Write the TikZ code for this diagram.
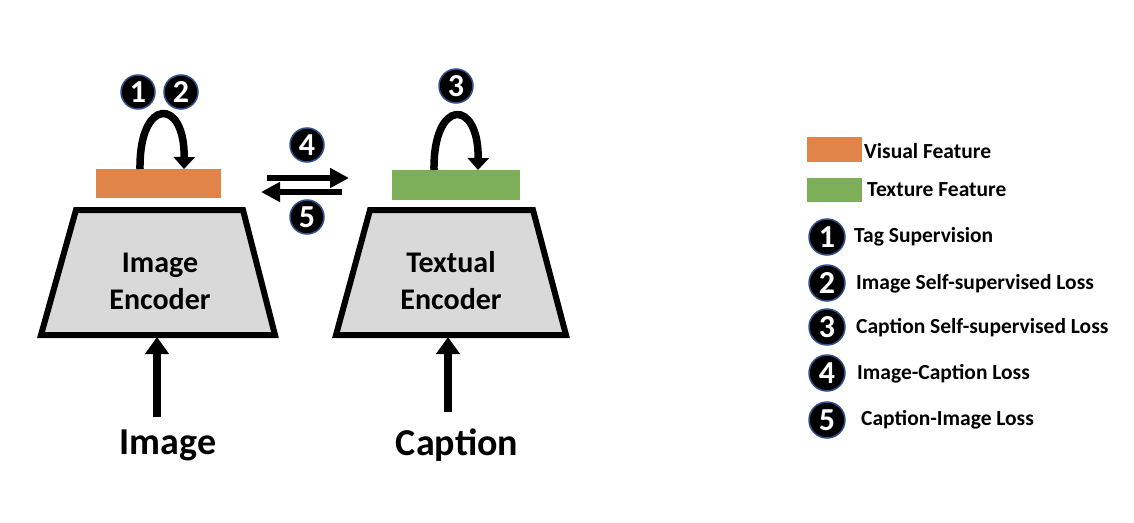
\documentclass[tikz,border=0pt]{standalone}
\usepackage{fontspec}
\setmainfont{Carlito}
\usetikzlibrary{arrows.meta}
\definecolor{vorange}{HTML}{E0844A}
\definecolor{tgreen}{HTML}{7DAE58}
\definecolor{encgray}{HTML}{D9D9D9}
\definecolor{ringblue}{HTML}{2F528F}
\tikzset{
  num/.style={circle, fill=black, draw=ringblue, line width=1.5pt, minimum size=34pt, inner sep=0pt, text=white, font=\fontsize{32}{32}\selectfont\bfseries},
  lnum/.style={num, minimum size=36pt},
  enc/.style={fill=encgray, draw=black, line width=6pt, line join=miter},
  enctext/.style={font=\fontsize{30}{37}\selectfont\bfseries, align=center, inner sep=0pt},
  inlabel/.style={font=\fontsize{38}{40}\selectfont\bfseries, inner sep=0pt},
  legtext/.style={font=\fontsize{21.5}{23}\selectfont\bfseries, anchor=west, inner sep=0pt},
  bar/.style={rectangle, inner sep=0pt},
  uparrow/.style={line width=8pt, -{Triangle[width=23pt,length=17pt]}},
  xarrow/.style={line width=6.5pt, -{Triangle[width=19pt,length=19pt]}},
  looparrow/.style={line width=7.5pt, -{Triangle[width=21pt,length=12pt]}},
}
\begin{document}
\begin{tikzpicture}[x=1pt, y=-1pt]
\useasboundingbox (0,0) rectangle (1134,522);
% encoders
\draw[enc] (76,210) -- (243,210) -- (275,335) -- (41,335) -- cycle;
\draw[enc] (370,210) -- (533,210) -- (566,335) -- (336,335) -- cycle;
\node[enctext] (ienc) at (160,281) {Image\\Encoder};
\node[enctext] (tenc) at (451,281) {Textual\\Encoder};
\coordinate (ienc-bot) at (157,337);
\coordinate (tenc-bot) at (448,337);
% inputs
\node[inlabel] (img) at (168,445) {Image};
\node[inlabel] (cap) at (457,445) {Caption};
\coordinate (img-top) at (157,417);
\coordinate (cap-top) at (448,412);
\draw[uparrow] (img-top) -- (ienc-bot);
\draw[uparrow] (cap-top) -- (tenc-bot);
% feature bars
\node[bar, fill=vorange, minimum width=125pt, minimum height=29pt] (vf) at (158.5,183.5) {};
\node[bar, fill=tgreen, minimum width=128pt, minimum height=30pt] (tf) at (456,185) {};
% loop arrows
\coordinate (l1a) at (140,169);
\coordinate (l1b) at (184,169);
\coordinate (l3a) at (434,170);
\coordinate (l3b) at (478,170);
\draw[looparrow] (l1a) .. controls (139,97) and (185,97) .. (l1b);
\draw[looparrow] (l3a) .. controls (433,98) and (479,98) .. (l3b);
% numbers
\node[num] (n1) at (138,92) {1};
\node[num] (n2) at (181,92) {2};
\node[num] (n3) at (456,86) {3};
\node[num] (n4) at (307,145) {4};
\node[num] (n5) at (307,217) {5};
% exchange arrows
\coordinate (a4s) at (267,178);
\coordinate (a4e) at (349,178);
\coordinate (a5s) at (342,192);
\coordinate (a5e) at (261,192);
\draw[xarrow] (a4s) -- (a4e);
\draw[xarrow] (a5s) -- (a5e);
% legend
\node[bar, fill=vorange, minimum width=55pt, minimum height=25pt] (lvf) at (834.5,149.5) {};
\node[bar, fill=tgreen, minimum width=55pt, minimum height=24pt] (ltf) at (834.5,190) {};
\node[legtext] (tvf) at (864,151) {Visual Feature};
\node[legtext] (ttf) at (867,190) {Texture Feature};
\node[lnum] (m1) at (827,237) {1};
\node[lnum] (m2) at (827,283) {2};
\node[lnum] (m3) at (827,327) {3};
\node[lnum] (m4) at (827,373) {4};
\node[lnum] (m5) at (827,420) {5};
\node[legtext] (t1) at (854,237) {Tag Supervision};
\node[legtext] (t2) at (856,284) {Image Self-supervised Loss};
\node[legtext] (t3) at (856,328) {Caption Self-supervised Loss};
\node[legtext] (t4) at (857,374) {Image-Caption Loss};
\node[legtext] (t5) at (861,420) {Caption-Image Loss};
\end{tikzpicture}
\end{document}
